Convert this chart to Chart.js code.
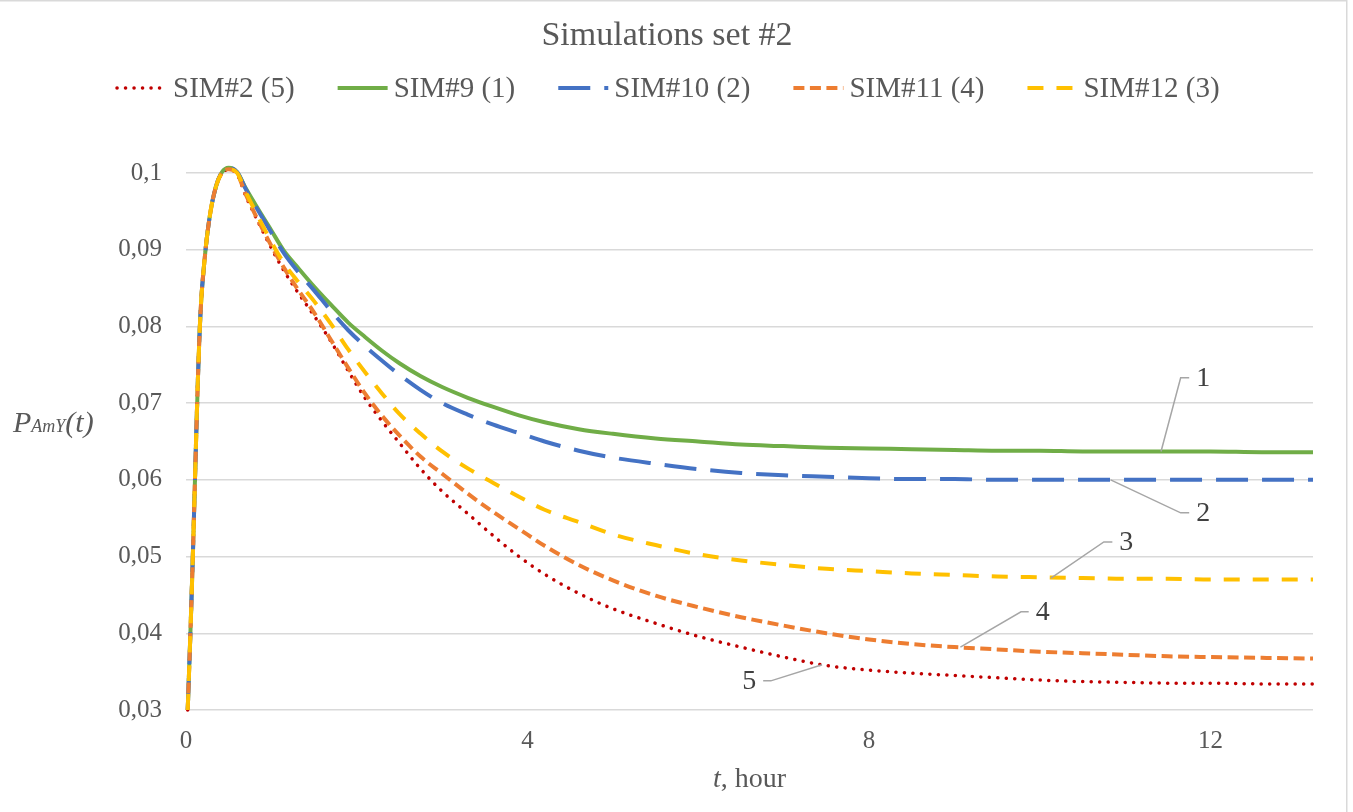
<!DOCTYPE html>
<html>
<head>
<meta charset="utf-8">
<title>Simulations set #2</title>
<script src="https://cdn.jsdelivr.net/npm/chart.js@4/dist/chart.umd.min.js"></script>
<style>
	html, body { margin: 0; padding: 0; background: #fff; }
	canvas { display: block; }
	.preload { position: absolute; left: -9999px; font-family: "Liberation Serif"; }
</style>
</head>
<body>
<span class="preload">Simulations <i>set</i></span>
<canvas id="chart" width="1353" height="812"></canvas>
<script>
const hours = [
	0.02, 0.05, 0.08, 0.11, 0.14, 0.17, 0.22, 0.28, 0.35, 0.42, 0.5,
	0.6, 0.7, 0.85, 1.0, 1.15, 1.3, 1.5, 1.7, 1.9, 2.1, 2.3, 2.5, 2.75, 3.0,
	3.3, 3.6, 3.9, 4.2, 4.6, 5.0, 5.5, 6.0, 6.5, 7.0, 7.5, 8.0, 8.5, 9.0,
	9.5, 10.0, 10.5, 11.0, 11.5, 12.0, 12.6, 13.2,
];

// all runs share the same absorption phase up to the peak
const sim2 = [
	0.0300, 0.0395, 0.0500, 0.0620, 0.0733, 0.0818, 0.0890, 0.0945, 0.0982, 0.1000, 0.1004,
	0.0998, 0.0970, 0.0935, 0.0902, 0.0872, 0.0846, 0.0814, 0.0780, 0.0742, 0.0706, 0.0676, 0.0648, 0.0614, 0.0585,
	0.0556, 0.0527, 0.0500, 0.0477, 0.0452, 0.0432, 0.0413, 0.0396, 0.0382, 0.0369, 0.0358, 0.0352, 0.0348, 0.0345,
	0.0342, 0.0339, 0.0337, 0.0336, 0.0335, 0.0335, 0.0334, 0.0334,
];
const sim9 = [
	0.0300, 0.0395, 0.0500, 0.0620, 0.0733, 0.0818, 0.0890, 0.0945, 0.0982, 0.1001, 0.1007,
	0.1001, 0.0980, 0.0952, 0.0925, 0.0898, 0.0878, 0.0852, 0.0828, 0.0805, 0.0786, 0.0768, 0.0752, 0.0735, 0.0721,
	0.0707, 0.0695, 0.0684, 0.0675, 0.0666, 0.0660, 0.0654, 0.0650, 0.0646, 0.0644, 0.0642, 0.0641, 0.0640, 0.0639,
	0.0638, 0.0638, 0.0637, 0.0637, 0.0637, 0.0637, 0.0636, 0.0636,
];
const sim10 = [
	0.0300, 0.0395, 0.0500, 0.0620, 0.0733, 0.0818, 0.0890, 0.0945, 0.0982, 0.1001, 0.1007,
	0.1001, 0.0979, 0.0950, 0.0922, 0.0895, 0.0873, 0.0847, 0.0820, 0.0795, 0.0774, 0.0755, 0.0737, 0.0717, 0.0700,
	0.0685, 0.0672, 0.0661, 0.0650, 0.0638, 0.0629, 0.0621, 0.0614, 0.0609, 0.0606, 0.0604, 0.0602, 0.0601, 0.0601,
	0.0600, 0.0600, 0.0600, 0.0600, 0.0600, 0.0600, 0.0600, 0.0600,
];
const sim11 = [
	0.0300, 0.0395, 0.0500, 0.0620, 0.0733, 0.0818, 0.0890, 0.0945, 0.0982, 0.1000, 0.1005,
	0.0999, 0.0972, 0.0937, 0.0905, 0.0876, 0.0850, 0.0818, 0.0782, 0.0746, 0.0712, 0.0683, 0.0658, 0.0630, 0.0608,
	0.0582, 0.0558, 0.0536, 0.0514, 0.0489, 0.0469, 0.0449, 0.0434, 0.0421, 0.0410, 0.0400, 0.0392, 0.0386, 0.0382,
	0.0379, 0.0376, 0.0374, 0.0372, 0.0370, 0.0369, 0.0368, 0.0367,
];
const sim12 = [
	0.0300, 0.0395, 0.0500, 0.0620, 0.0733, 0.0818, 0.0890, 0.0945, 0.0982, 0.1000, 0.1005,
	0.1000, 0.0975, 0.0942, 0.0910, 0.0882, 0.0860, 0.0833, 0.0803, 0.0770, 0.0740, 0.0712, 0.0686, 0.0660, 0.0637,
	0.0615, 0.0596, 0.0578, 0.0561, 0.0545, 0.0529, 0.0515, 0.0503, 0.0495, 0.0489, 0.0484, 0.0481, 0.0478, 0.0476,
	0.0474, 0.0473, 0.0472, 0.0471, 0.0471, 0.0470, 0.0470, 0.0470,
];

const seriesNames = ['SIM#2 (5)', 'SIM#9 (1)', 'SIM#10 (2)', 'SIM#11 (4)', 'SIM#12 (3)'];
const seriesValues = [sim2, sim9, sim10, sim11, sim12];
const xTicks = [0, 4, 8, 12];
const yTicks = [0.03, 0.04, 0.05, 0.06, 0.07, 0.08, 0.09, 0.1];

// curve numbers with their leader lines, in (hour, value) units
const callouts = [
	{ text: '1', from: [11.42, 0.0637], bend: [11.65, 0.0733], to: [11.75, 0.0733] },
	{ text: '2', from: [10.83, 0.0600], bend: [11.65, 0.0557], to: [11.75, 0.0557] },
	{ text: '3', from: [10.13, 0.0472], bend: [10.75, 0.0519], to: [10.85, 0.0519] },
	{ text: '4', from: [9.07, 0.0382], bend: [9.78, 0.0428], to: [9.87, 0.0428] },
	{ text: '5', from: [7.45, 0.0359], bend: [6.85, 0.0338], to: [6.76, 0.0338] },
];

const styles = [
	{ color: '#C00000', width: 3.5, dash: [0.1, 8.4], cap: 'round' },
	{ color: '#70AD47', width: 4, dash: [], cap: 'butt' },
	{ color: '#4472C4', width: 4, dash: [32, 14], cap: 'butt' },
	{ color: '#ED7D31', width: 4, dash: [11, 5.5], cap: 'butt' },
	{ color: '#FFC000', width: 4, dash: [16, 13], cap: 'butt' },
];

const SERIF = '"Liberation Serif", "DejaVu Serif", serif';
const TEXT = '#595959';

const decorations = {
	id: 'decorations',
	beforeDraw(chart) {
		const { ctx, width } = chart;
		ctx.save();
		ctx.strokeStyle = '#d9d9d9';
		ctx.lineWidth = 1.5;
		ctx.beginPath();
		ctx.moveTo(0, 0.75);
		ctx.lineTo(width - 6.25, 0.75);
		ctx.lineTo(width - 6.25, chart.height);
		ctx.stroke();
		ctx.restore();
	},
	afterDraw(chart) {
		const { ctx, scales: { x, y } } = chart;
		ctx.save();

		// title
		ctx.fillStyle = TEXT;
		ctx.textAlign = 'center';
		ctx.textBaseline = 'alphabetic';
		ctx.font = `34px ${SERIF}`;
		ctx.fillText('Simulations set #2', 667, 45);

		// legend
		ctx.font = `29px ${SERIF}`;
		ctx.textAlign = 'left';
		let lx = 117;
		seriesNames.forEach((name, i) => {
			const s = styles[i];
			ctx.save();
			ctx.strokeStyle = s.color;
			ctx.lineWidth = s.width;
			ctx.lineCap = s.cap;
			ctx.setLineDash(s.dash);
			ctx.beginPath();
			ctx.moveTo(lx, 88);
			ctx.lineTo(lx + 50, 88);
			ctx.stroke();
			ctx.restore();
			ctx.fillStyle = TEXT;
			ctx.fillText(name, lx + 56, 97);
			lx += 56 + ctx.measureText(name).width + 43;
		});

		// y axis title
		let tx = 13;
		const base = 432;
		ctx.fillStyle = TEXT;
		ctx.font = `italic 30px ${SERIF}`;
		ctx.fillText('P', tx, base);
		tx += ctx.measureText('P').width;
		ctx.font = `italic 18px ${SERIF}`;
		ctx.fillText('AmY', tx, base);
		tx += ctx.measureText('AmY').width;
		ctx.font = `italic 30px ${SERIF}`;
		ctx.fillText('(t)', tx, base);

		// x axis title
		ctx.font = `italic 28px ${SERIF}`;
		const tW = ctx.measureText('t').width;
		ctx.font = `28px ${SERIF}`;
		const restW = ctx.measureText(', hour').width;
		const ax = (x.left + x.right) / 2 - (tW + restW) / 2;
		ctx.font = `italic 28px ${SERIF}`;
		ctx.fillText('t', ax, 787);
		ctx.font = `28px ${SERIF}`;
		ctx.fillText(', hour', ax + tW, 787);

		// curve numbers
		ctx.strokeStyle = '#a6a6a6';
		ctx.lineWidth = 1.5;
		ctx.fillStyle = '#404040';
		ctx.font = `28px ${SERIF}`;
		ctx.textBaseline = 'middle';
		callouts.forEach((c) => {
			const p = (pt) => [x.getPixelForValue(pt[0]), y.getPixelForValue(pt[1])];
			const a = p(c.from), b = p(c.bend), e = p(c.to);
			ctx.beginPath();
			ctx.moveTo(a[0], a[1]);
			ctx.lineTo(b[0], b[1]);
			ctx.lineTo(e[0], e[1]);
			ctx.stroke();
			const left = e[0] < b[0];
			ctx.textAlign = left ? 'right' : 'left';
			ctx.fillText(c.text, e[0] + (left ? -7 : 7), e[1] + 1);
		});

		ctx.restore();
	},
};

const formatComma = (v) => String(parseFloat(v.toFixed(2))).replace('.', ',');

function drawChart() {
	new Chart(document.getElementById('chart').getContext('2d'), {
		type: 'line',
		data: {
			datasets: seriesNames.map((name, i) => ({
				label: name,
				data: hours.map((h, k) => ({ x: h, y: seriesValues[i][k] })),
				borderColor: styles[i].color,
				backgroundColor: styles[i].color,
				borderWidth: styles[i].width,
				borderDash: styles[i].dash,
				borderCapStyle: styles[i].cap,
				borderJoinStyle: 'round',
				cubicInterpolationMode: 'monotone',
				pointRadius: 0,
				order: seriesNames.length - i,
				clip: { left: 4, top: 14, right: 4, bottom: 2 },
			})),
		},
		options: {
			responsive: false,
			animation: false,
			devicePixelRatio: 1,
			layout: { padding: { top: 173, right: 40, left: 0, bottom: 0 } },
			plugins: {
				legend: { display: false },
				title: { display: false },
				tooltip: { enabled: false },
			},
			scales: {
				x: {
					type: 'linear',
					min: 0,
					max: 13.2,
					afterFit: (scale) => { scale.height = 102; },
					afterBuildTicks: (scale) => { scale.ticks = xTicks.map((v) => ({ value: v })); },
					grid: { display: false, drawTicks: false },
					border: { display: false },
					ticks: {
						color: TEXT,
						padding: 16,
						maxRotation: 0,
						font: { family: SERIF, size: 25 },
					},
				},
				y: {
					min: 0.03,
					max: 0.1,
					afterFit: (scale) => { scale.width = 186; },
					afterBuildTicks: (scale) => { scale.ticks = yTicks.map((v) => ({ value: v })); },
					grid: { color: '#d9d9d9', lineWidth: 1.5, drawTicks: false },
					border: { display: false },
					ticks: {
						color: TEXT,
						padding: 24,
						font: { family: SERIF, size: 25 },
						callback: (v) => formatComma(v),
					},
				},
			},
		},
		plugins: [decorations],
	});
}

Promise.all([
	document.fonts.load('25px "Liberation Serif"'),
	document.fonts.load('italic 25px "Liberation Serif"'),
]).catch(() => {}).then(drawChart);
</script>
</body>
</html>
